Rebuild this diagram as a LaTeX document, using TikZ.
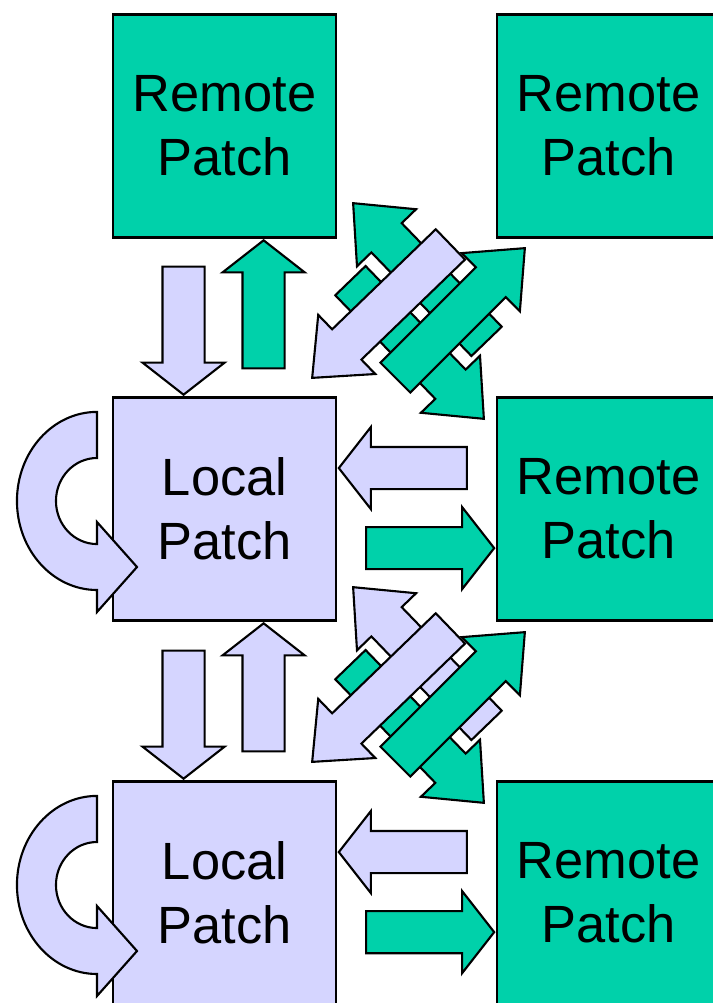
\documentclass[tikz,border=0pt]{standalone}
\usepackage{fontspec}
\setmainfont{Liberation Sans}
\usetikzlibrary{shapes.arrows}

\definecolor{patchgreen}{RGB}{0,209,170}
\definecolor{patchblue}{RGB}{213,213,255}

\tikzset{
  patch/.style={draw=black, line width=0.8pt, minimum size=2.23cm, inner sep=0pt,
    align=center, font=\fontsize{14.9}{18.2}\selectfont},
  remote/.style={patch, fill=patchgreen},
  local/.style={patch, fill=patchblue},
  % straight block arrows between neighbouring patches
  flow/.style={single arrow, draw=black, line width=0.6pt, inner sep=0pt,
    inner ysep=0.2cm, minimum width=0pt, single arrow head extend=0.2cm,
    single arrow tip angle=104, minimum height=1.28cm, anchor=tip},
  % longer diagonal arrows
  crossflow/.style={flow, single arrow head extend=0.2cm,
    single arrow tip angle=81, minimum height=#1},
  crossflow/.default=1.92cm,
}

\begin{document}
\begin{tikzpicture}[x=0.01cm, y=-0.01cm]
  \useasboundingbox (0,0) rectangle (713,1003);
  \clip (0,0) rectangle (713,1003);

  % patches
  \node[remote] (rp1) at (224.5,126) {Remote\\Patch};
  \node[remote] (rp2) at (608.5,126) {Remote\\Patch};
  \node[local]  (lp1) at (224.5,509) {Local\\Patch};
  \node[remote] (rp3) at (608.5,509) {Remote\\Patch};
  \node[local]  (lp2) at (224.5,893) {Local\\Patch};
  \node[remote] (rp4) at (608.5,893) {Remote\\Patch};

  % self exchange of the local patches
  \foreach \cy in {501,885} {
    \draw[fill=patchblue, line width=0.6pt]
      (97,\cy-89) -- (97,\cy-43)
      arc[start angle=90, end angle=270, x radius=0.41cm, y radius=0.43cm]
      -- (97,\cy+21) -- (137,\cy+66) -- (97,\cy+111) -- (97,\cy+89)
      arc[start angle=270, end angle=90, x radius=0.8cm, y radius=0.89cm]
      -- cycle;
  }

  % vertical exchange
  \node[flow, fill=patchblue,  rotate=-90] (dn1) at ([xshift=0.72cm]lp1.north west) {};
  \node[flow, fill=patchgreen, rotate=90]  (up1) at ([xshift=1.52cm]rp1.south west) {};
  \node[flow, fill=patchblue,  rotate=-90] (dn2) at ([xshift=0.72cm]lp2.north west) {};
  \node[flow, fill=patchblue,  rotate=90]  (up2) at ([xshift=1.52cm]lp1.south west) {};

  % horizontal exchange
  \node[flow, fill=patchblue,  rotate=180] (lt1) at ([yshift=-0.72cm]lp1.north east) {};
  \node[flow, fill=patchgreen]             (rt1) at ([yshift=-1.52cm]rp3.north west) {};
  \node[flow, fill=patchblue,  rotate=180] (lt2) at ([yshift=-0.72cm]lp2.north east) {};
  \node[flow, fill=patchgreen]             (rt2) at ([yshift=-1.52cm]rp4.north west) {};

  % diagonal exchange, the crossing pair sits underneath
  \foreach \dy/\col in {0/patchgreen, 384/patchblue} {
    \node[crossflow, fill=\col,        rotate=134] (nw\dy) at (352,202+\dy) {};
    \node[crossflow, fill=patchgreen,  rotate=-46] (se\dy) at (485,420+\dy) {};
    \node[crossflow, fill=patchblue,   rotate=-136] (sw\dy) at (311,379+\dy) {};
    \node[crossflow=1.83cm, fill=patchgreen, rotate=45] (ne\dy) at (526,247+\dy) {};
  }
\end{tikzpicture}
\end{document}
